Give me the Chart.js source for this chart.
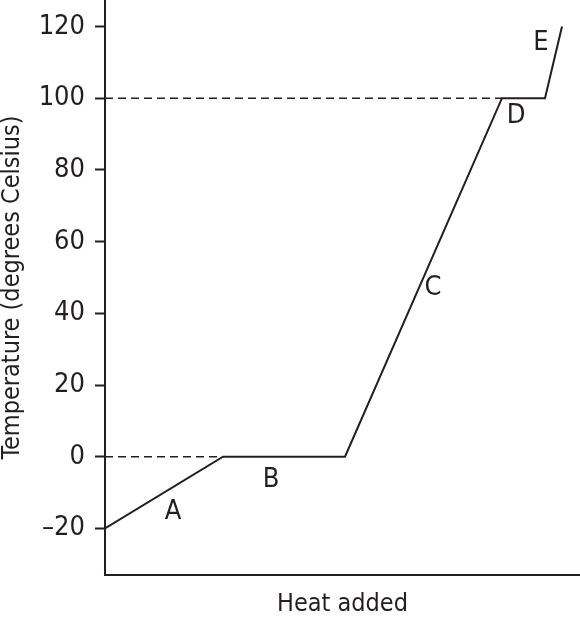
<!DOCTYPE html>
<html>
<head>
<meta charset="utf-8">
<script src="https://cdn.jsdelivr.net/npm/chart.js@4.4.0/dist/chart.umd.min.js"></script>
<style>
html,body{margin:0;padding:0;background:#fff;}
#wrap{width:580px;height:617px;position:relative;}
</style>
</head>
<body>
<div id="wrap"><canvas id="c"></canvas></div>
<script>
// Heating curve points (heat added, temperature °C)
const heatValues = [0, 118, 240, 397, 440, 457];
const tempValues = [-20, 0, 0, 100, 100, 120];
// Dashed reference lines at 0 and 100 °C (heat extent, temperature)
const refHeat = [[0, 118], [0, 397]];
const refTemp = [0, 100];
// Segment labels and their anchor points in data units
const segLabels = ['A', 'B', 'C', 'D', 'E'];
const segLabelHeat = [68, 166, 328, 411, 436];
const segLabelTemp = [-15.4, -6.4, 47.2, 95, 115.4];
// Y tick values and labels
const tickValues = [-20, 0, 20, 40, 60, 80, 100, 120];
const tickLabels = ['\u201320', '0', '20', '40', '60', '80', '100', '120'];
const xTitle = 'Heat added';
const yTitle = 'Temperature (degrees Celsius)';

const FONT = "'Liberation Sans Narrow', 'DejaVu Sans Condensed', Roboto, sans-serif";
const INK = '#231f20';
const FS_TITLE = 25;
const FS_TICK = 27;
const FS_LABEL = 27;

const curve = heatValues.map((h, i) => ({x: h, y: tempValues[i]}));
const refSets = refTemp.map((t, i) => ({
  data: refHeat[i].map(h => ({x: h, y: t})),
  borderColor: INK, borderWidth: 1.5, borderDash: [8, 5],
  pointRadius: 0, fill: false, tension: 0
}));

const labelPlugin = {
  id: 'segLabels',
  afterDatasetsDraw(chart) {
    const {ctx, scales: {x, y}} = chart;
    ctx.save();
    ctx.fillStyle = INK;
    ctx.font = FS_LABEL + 'px ' + FONT;
    ctx.textAlign = 'center';
    ctx.textBaseline = 'middle';
    segLabels.forEach((s, i) => {
      ctx.fillText(s, x.getPixelForValue(segLabelHeat[i]), y.getPixelForValue(segLabelTemp[i]));
    });
    ctx.restore();
  }
};

new Chart(document.getElementById('c'), {
  type: 'line',
  data: {
    datasets: [
      {data: curve, borderColor: INK, borderWidth: 2, pointRadius: 0, fill: false, tension: 0},
      ...refSets
    ]
  },
  options: {
    responsive: true,
    maintainAspectRatio: false,
    animation: false,
    events: [],
    layout: {padding: 0},
    plugins: {legend: {display: false}, tooltip: {enabled: false}},
    elements: {line: {borderCapStyle: 'butt'}},
    scales: {
      x: {
        type: 'linear', min: 0, max: 475,
        grid: {display: false, drawTicks: false},
        border: {display: true, color: INK, width: 2},
        ticks: {display: false},
        title: {display: true, text: xTitle, color: INK, font: {family: FONT, size: FS_TITLE, lineHeight: 1}, padding: {top: 0, bottom: 0}},
        afterFit(s) { s.height = 42; s.paddingLeft = 0; s.paddingRight = 0; }
      },
      y: {
        type: 'linear', min: -33, max: 127.4,
        afterBuildTicks(s) { s.ticks = tickValues.map(v => ({value: v})); },
        ticks: {
          color: INK, padding: 10, font: {family: FONT, size: FS_TICK},
          callback: (v) => tickLabels[tickValues.indexOf(v)]
        },
        grid: {drawOnChartArea: false, drawTicks: true, tickLength: 10, color: INK, tickColor: INK, tickWidth: 2},
        border: {display: true, color: INK, width: 2},
        title: {display: true, text: yTitle, color: INK, font: {family: FONT, size: FS_TITLE, lineHeight: 1}, padding: {top: 0, bottom: 0}},
        afterFit(s) { s.width = 105; s.paddingTop = 0; s.paddingBottom = 0; }
      }
    }
  },
  plugins: [labelPlugin]
});
</script>
</body>
</html>
